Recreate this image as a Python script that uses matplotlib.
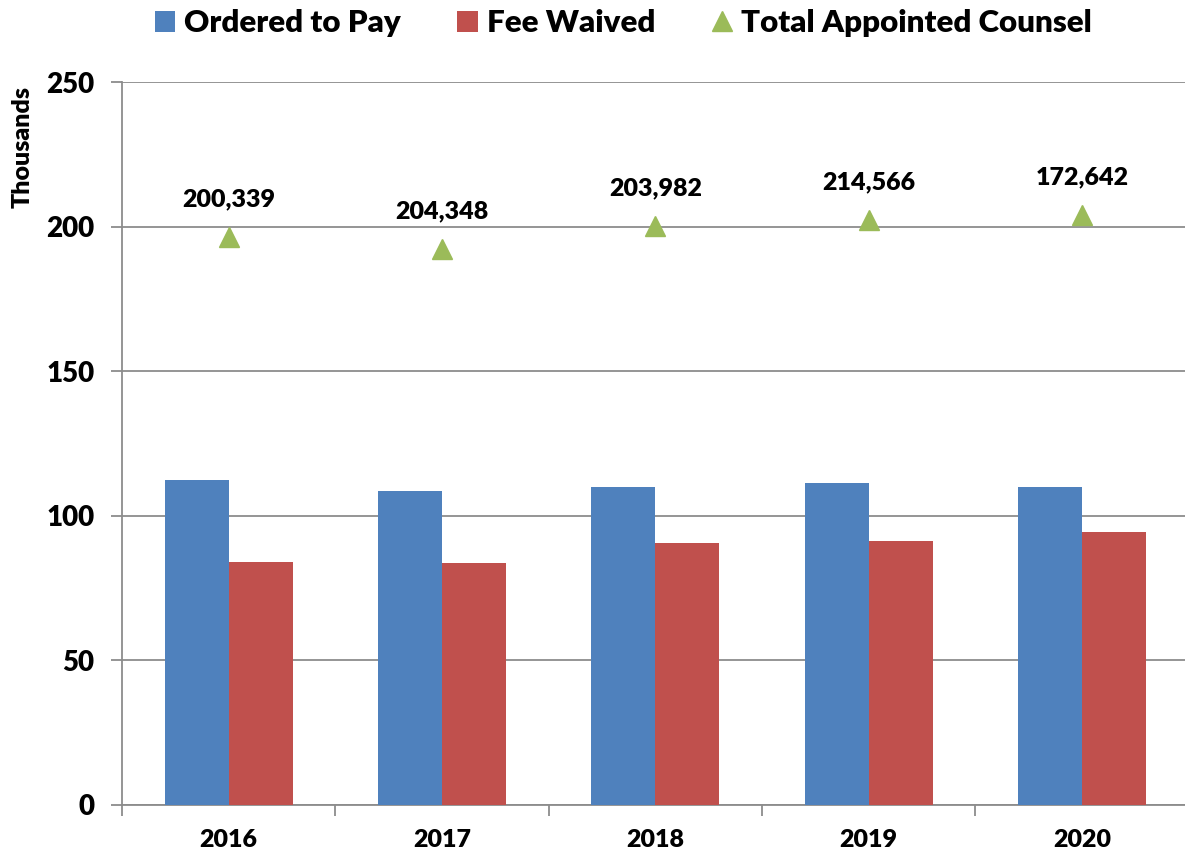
import numpy as np
import matplotlib
matplotlib.use('Agg')
import matplotlib.pyplot as plt
from matplotlib.patches import Patch
from matplotlib.lines import Line2D

years = ['2016', '2017', '2018', '2019', '2020']
ordered_to_pay = [112.4, 108.6, 110.0, 111.3, 110.0]
fee_waived = [84.0, 83.7, 90.6, 91.3, 94.4]
total_counsel = [196.4, 192.3, 200.2, 202.3, 204.0]
total_labels = ['200,339', '204,348', '203,982', '214,566', '172,642']

blue = '#4F81BD'
red = '#C0504D'
green = '#9BBB59'
grid_col = '#8C8C8C'
wt = 'heavy'

plt.rcParams['font.family'] = ['Lato', 'DejaVu Sans']
plt.rcParams['font.weight'] = wt

fig = plt.figure(figsize=(11.85, 8.56), dpi=100)
ax = fig.add_axes([0.103, 0.0596, 0.897, 0.8444])

x = np.arange(len(years))
w = 0.3
ax.bar(x - w / 2, ordered_to_pay, width=w, color=blue, zorder=3)
ax.bar(x + w / 2, fee_waived, width=w, color=red, zorder=3)
ax.plot(x, total_counsel, linestyle='none', marker='^', markersize=14.5, color=green, zorder=4)

for xi, yi, lab in zip(x, total_counsel, total_labels):
    ax.annotate(lab, (xi, yi), xytext=(0, 27), textcoords='offset points',
                ha='center', va='center', fontsize=18, fontweight=wt)

ax.set_xlim(-0.5, -0.5 + 1063 / 213.3)
ax.set_ylim(0, 250)
ax.set_yticks(np.arange(0, 251, 50))
ax.yaxis.grid(True, color=grid_col, linewidth=1.3, zorder=0)
ax.set_axisbelow(True)

ax.set_xticks(x)
ax.set_xticklabels(years, fontsize=18, fontweight=wt)
ax.set_xticks(np.arange(-0.5, len(years) - 0.6, 1), minor=True)
ax.tick_params(axis='x', which='major', length=0, pad=17)
ax.tick_params(axis='x', which='minor', length=8, width=1.3, color=grid_col, direction='out')
ax.tick_params(axis='y', length=8, width=1.3, color=grid_col, labelsize=20, pad=12)
for t in ax.get_yticklabels():
    t.set_fontweight(wt)

for side in ['top', 'right']:
    ax.spines[side].set_visible(False)
for side in ['left', 'bottom']:
    ax.spines[side].set_color(grid_col)
    ax.spines[side].set_linewidth(1.3)

fig.text(0.019, 0.828, 'Thousands', rotation=90, ha='center', va='center',
         fontsize=18, fontweight=wt)

handles = [
    Patch(facecolor=blue, edgecolor='none', label='Ordered to Pay'),
    Patch(facecolor=red, edgecolor='none', label='Fee Waived'),
    Line2D([], [], linestyle='none', marker='^', markersize=14.5, color=green, label='Total Appointed Counsel'),
]
fig.legend(handles=handles, loc='center', bbox_to_anchor=(0.526, 0.973), ncol=3, frameon=False,
           prop={'size': 22.5, 'weight': wt}, handlelength=0.65, handleheight=0.65,
           handletextpad=0.3, columnspacing=1.8)

fig.savefig('out.png', dpi=100)
